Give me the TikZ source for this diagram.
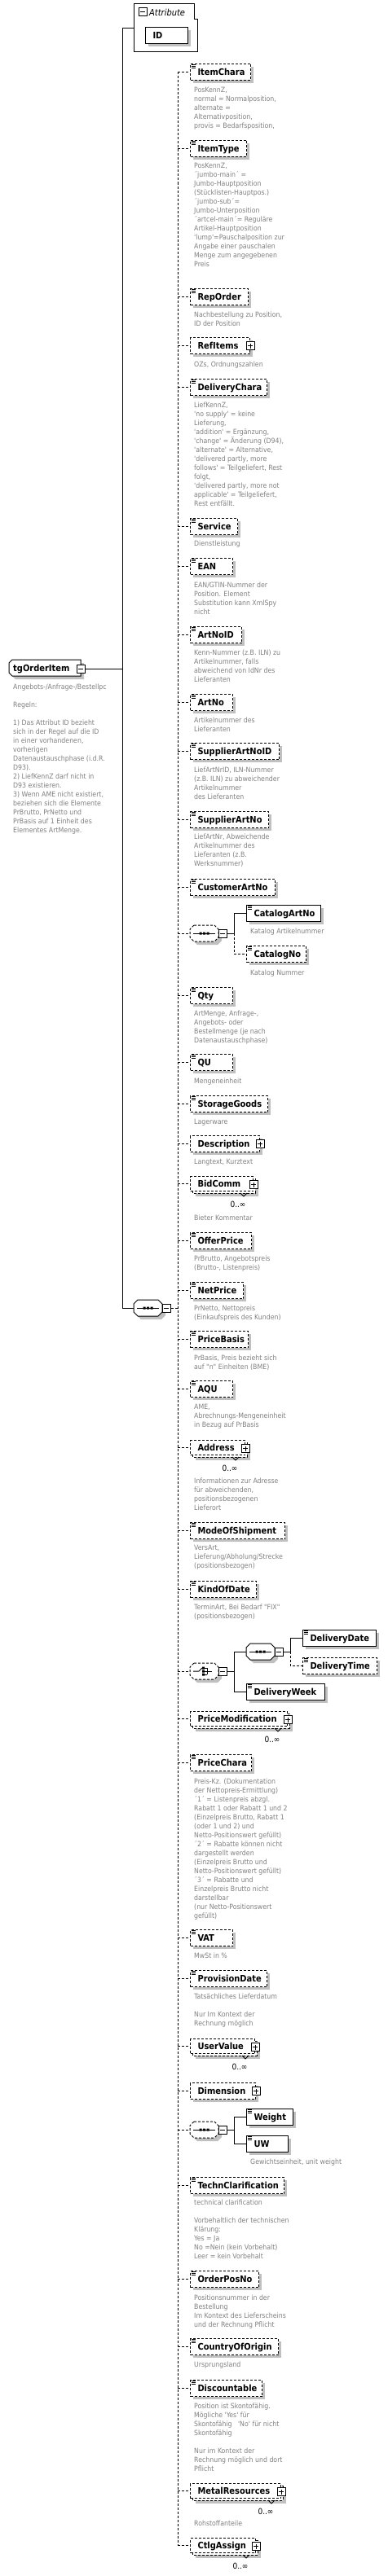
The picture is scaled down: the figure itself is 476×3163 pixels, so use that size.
\documentclass[tikz,border=0pt]{standalone}
\usepackage{fontspec}
\newfontfamily\dvs{DejaVu Sans Condensed}
\usetikzlibrary{calc}
\definecolor{descgray}{RGB}{128,128,128}
\definecolor{shadowgray}{RGB}{192,192,192}
\tikzset{
  dsh/.style={dash pattern=on 3pt off 2pt},
  conn/.style={line width=1pt},
  elbox/.style={draw=black, fill=white, line width=1pt, inner xsep=9pt, inner ysep=0pt,
    minimum height=20pt, text height=8pt, text depth=0pt,
    font=\dvs\fontsize{11}{13}\selectfont\bfseries, anchor=north west},
  desc/.style={anchor=north west, inner sep=0pt, align=left, text=descgray,
    font=\dvs\fontsize{8.7}{11}\selectfont},
  mult/.style={inner sep=0pt, font=\dvs\fontsize{10}{12}\selectfont},
  pmbox/.style={draw=black, fill=white, line width=1pt, minimum width=10pt,
    minimum height=10pt, inner sep=0pt},
  ghost/.style={inner sep=0pt, draw=none},
}
% leaf element: opts, name, x, top, width, label
\newcommand\Leaf[6]{%
  \fill[shadowgray] (#3+4,#4+4) rectangle (#3+#5+4,#4+24);
  \node[elbox,#1,minimum width=#5pt] (#2) at (#3,#4) {\makebox[\dimexpr#5pt-18pt\relax][l]{#6}};
  \draw[line width=0.7pt] (#3+2,#4+1.6) -- (#3+7,#4+1.6) (#3+2,#4+3.3) -- (#3+7,#4+3.3) (#3+2,#4+5) -- (#3+7,#4+5);
}
% complex element with plus box
\newcommand\Cplx[6]{%
  \fill[shadowgray] (#3+4,#4+4) rectangle (#3+#5+4,#4+24);
  \node[elbox,#1,minimum width=#5pt] (#2) at (#3,#4) {\makebox[\dimexpr#5pt-18pt\relax][l]{#6}};
  \node[pmbox] (#2-p) at (#2.east) {};
  \draw[line width=1pt] ($(#2-p.center)+(-3,0)$) -- ($(#2-p.center)+(3,0)$) ($(#2-p.center)+(0,-3)$) -- ($(#2-p.center)+(0,3)$);
}
% multiple-occurrence element: name, x, top, front width, label
\newcommand\Multi[5]{%
  \fill[shadowgray] (#2+7,#3+7) rectangle (#2+#4+7,#3+25);
  \draw[dsh,line width=1pt,fill=white] (#2+3,#3+3) rectangle (#2+#4+3,#3+21);
  \node[elbox,dsh,minimum width=#4pt,minimum height=18pt] (#1) at (#2,#3) {\makebox[\dimexpr#4pt-18pt\relax][l]{#5}};
  \node[pmbox] (#1-p) at ($(#1.east)+(0,1)$) {};
  \draw[line width=1pt] ($(#1-p.center)+(-3,0)$) -- ($(#1-p.center)+(3,0)$) ($(#1-p.center)+(0,-3)$) -- ($(#1-p.center)+(0,3)$);
  \draw[line width=0.8pt] (#2+#4-15,#3+21) -- (#2+#4-11,#3+25) -- (#2+#4-7,#3+21);
  \node[mult] (#1-m) at (#2+#4-18,#3+34.5) {0..∞};
}
% octagon compositor: opts, name, x, cy
\newcommand\Octo[4]{%
  \fill[shadowgray] (#3+9,#4-6) -- (#3+34,#4-6) -- (#3+39,#4-1) -- (#3+39,#4+9) -- (#3+34,#4+14) -- (#3+9,#4+14) -- (#3+4,#4+9) -- (#3+4,#4-1) -- cycle;
  \draw[line width=1pt,fill=white,#1] (#3+5,#4-10) -- (#3+30,#4-10) -- (#3+35,#4-5) -- (#3+35,#4+5) -- (#3+30,#4+10) -- (#3+5,#4+10) -- (#3,#4+5) -- (#3,#4-5) -- cycle;
  \node[ghost,minimum width=35pt,minimum height=20pt,anchor=west] (#2) at (#3,#4) {};
  \node[pmbox] (#2-m) at (#3+40,#4) {};
  \draw[line width=1pt] (#3+37,#4) -- (#3+43,#4);
}
\newcommand\Seq[4]{%
  \Octo{#1}{#2}{#3}{#4}
  \draw[line width=1pt] (#3+4,#4) -- (#3+31,#4);
  \fill (#3+11.5,#4-1.5) rectangle ++(3,3) (#3+16,#4-1.5) rectangle ++(3,3) (#3+20.5,#4-1.5) rectangle ++(3,3);
}
\newcommand\Choice[4]{%
  \Octo{#1}{#2}{#3}{#4}
  \draw[line width=1pt] (#3+4,#4) -- (#3+11,#4) -- (#3+15,#4-4);
  \fill (#3+15,#4-5.5) rectangle ++(3,3) (#3+15,#4-1.5) rectangle ++(3,3) (#3+15,#4+2.5) rectangle ++(3,3);
  \draw[line width=0.8pt] (#3+18,#4-4) -- (#3+21,#4-4) (#3+18,#4+4) -- (#3+21,#4+4) (#3+21,#4-4) -- (#3+21,#4+4) (#3+18,#4) -- (#3+27,#4);
}
% description text: name, x, centre of first line, text
\newcommand\Desc[4]{\node[desc] (#1) at (#2,#3-4.6) {\strut #4};}

\begin{document}
\begin{tikzpicture}[x=1pt,y=-1pt]
\useasboundingbox (0,0) rectangle (476,3163);

% ---------- attribute container ----------
\draw[line width=1pt] (164,5) -- (238,5) -- (238,24) -- (242,24) -- (242,64) -- (164,64) -- cycle;
\node[ghost,minimum width=78pt,minimum height=59pt,anchor=north west] (attr) at (164,5) {};
\node[pmbox] (attr-m) at (175,15) {};
\draw[line width=1pt] (172,15) -- (178,15);
\node[anchor=west,inner sep=0pt,font=\dvs\fontsize{11}{13}\selectfont\itshape] (attr-t) at (183,15) {Attribute};
\fill[shadowgray] (182,37) rectangle (234,57);
\node[elbox,minimum width=52pt] (id) at (178,33) {\makebox[34pt][l]{ID}};

% ---------- root ----------
\fill[shadowgray] (19,814) -- (103,814) -- (103,834) -- (19,834) -- (15,830) -- (15,818) -- cycle;
\draw[line width=1pt,fill=white] (15,810) -- (99,810) -- (99,830) -- (15,830) -- (11,826) -- (11,814) -- cycle;
\node[ghost,minimum width=88pt,minimum height=20pt,anchor=north west] (tg) at (11,810) {};
\node[anchor=west,inner sep=0pt,text height=8pt,text depth=0pt,font=\dvs\fontsize{11}{13}\selectfont\bfseries] (tg-t) at (16,820) {tgOrderItem};
\node[pmbox] (tg-m) at (99,821) {};
\draw[line width=1pt] (96,821) -- (102,821);
\Desc{dtg}{16}{843}{Angebots-/Anfrage-/Bestellpc\\ \\Regeln:\\ \\1) Das Attribut ID bezieht\\sich in der Regel auf die ID\\in einer vorhandenen,\\vorherigen\\Datenaustauschphase (i.d.R.\\D93).\\2) LiefKennZ darf nicht in\\D93 existieren.\\3) Wenn AME nicht existiert,\\beziehen sich die Elemente\\PrBrutto, PrNetto und\\PrBasis auf 1 Einheit des\\Elementes ArtMenge.}

% ---------- main sequence ----------
\Seq{}{mseq}{164}{1606}

% ---------- children ----------
\Leaf{dsh}{itemchara}{233}{78}{74}{ItemChara}
\Desc{d1}{238}{110}{PosKennZ,\\normal = Normalposition,\\alternate =\\Alternativposition,\\provis = Bedarfsposition,}
\Leaf{dsh}{itemtype}{233}{172}{69}{ItemType}
\Desc{d2}{238}{203}{PosKennZ,\\´jumbo-main´ =\\Jumbo-Hauptposition\\(Stücklisten-Hauptpos.)\\´jumbo-sub´=\\Jumbo-Unterposition\\´artcel-main´= Reguläre\\Artikel-Hauptposition\\'lump'=Pauschalposition zur\\Angabe einer pauschalen\\Menge zum angegebenen\\Preis}
\Leaf{dsh}{reporder}{233}{354}{71}{RepOrder}
\Desc{d3}{238}{386}{Nachbestellung zu Position,\\ID der Position}
\Cplx{dsh}{refitems}{233}{414}{73}{RefItems}
\Desc{d4}{238}{447}{OZs, Ordnungszahlen}
\Leaf{dsh}{deliverychara}{233}{465}{94}{DeliveryChara}
\Desc{d5}{238}{497}{LiefKennZ,\\'no supply' = keine\\Lieferung,\\'addition' = Ergänzung,\\'change' = Änderung (D94),\\'alternate' = Alternative,\\'delivered partly, more\\follows' = Teilgeliefert, Rest\\folgt,\\'delivered partly, more not\\applicable' = Teilgeliefert,\\Rest entfällt.}
\Leaf{dsh}{service}{233}{636}{58}{Service}
\Desc{d6}{238}{667}{Dienstleistung}
\Leaf{dsh}{ean}{233}{685}{52}{EAN}
\Desc{d7}{238}{718}{EAN/GTIN-Nummer der\\Position. Element\\Substitution kann XmlSpy\\nicht}
\Leaf{dsh}{artnoid}{233}{769}{63}{ArtNoID}
\Desc{d8}{238}{801}{Kenn-Nummer (z.B. ILN) zu\\Artikelnummer, falls\\abweichend von IdNr des\\Lieferanten}
\Leaf{dsh}{artno}{233}{852}{52}{ArtNo}
\Desc{d9}{238}{884}{Artikelnummer des\\Lieferanten}
\Leaf{dsh}{supplierartnoid}{233}{912}{109}{SupplierArtNoID}
\Desc{d10}{238}{945}{LiefArtNrID, ILN-Nummer\\(z.B. ILN) zu abweichender\\Artikelnummer\\des Lieferanten}
\Leaf{dsh}{supplierartno}{233}{996}{96}{SupplierArtNo}
\Desc{d11}{238}{1027}{LiefArtNr, Abweichende\\Artikelnummer des\\Lieferanten (z.B.\\Werksnummer)}
\Leaf{dsh}{customerartno}{233}{1079}{104}{CustomerArtNo}
\Seq{dsh}{seq1}{233}{1146}
\Leaf{}{catart}{302}{1111}{91}{CatalogArtNo}
\Desc{d12}{307}{1143}{Katalog Artikelnummer}
\Leaf{dsh}{catno}{302}{1161}{73}{CatalogNo}
\Desc{d13}{307}{1194}{Katalog Nummer}
\Leaf{dsh}{qty}{233}{1212}{52}{Qty}
\Desc{d14}{238}{1244}{ArtMenge, Anfrage-,\\Angebots- oder\\Bestellmenge (je nach\\Datenaustauschphase)}
\Leaf{dsh}{qu}{233}{1294}{52}{QU}
\Desc{d15}{238}{1327}{Mengeneinheit}
\Leaf{dsh}{storagegoods}{233}{1345}{95}{StorageGoods}
\Desc{d16}{238}{1377}{Lagerware}
\Cplx{dsh}{description}{233}{1394}{85}{Description}
\Desc{d17}{238}{1426}{Langtext, Kurztext}
\Multi{bidcomm}{233}{1444}{77}{BidComm}
\Desc{d18}{238}{1495}{Bieter Kommentar}
\Leaf{dsh}{offerprice}{233}{1513}{75}{OfferPrice}
\Desc{d19}{238}{1545}{PrBrutto, Angebotspreis\\(Brutto-, Listenpreis)}
\Leaf{dsh}{netprice}{233}{1574}{65}{NetPrice}
\Desc{d20}{238}{1606}{PrNetto, Nettopreis\\(Einkaufspreis des Kunden)}
\Leaf{dsh}{pricebasis}{233}{1634}{71}{PriceBasis}
\Desc{d21}{238}{1667}{PrBasis, Preis bezieht sich\\auf "n" Einheiten (BME)}
\Leaf{dsh}{aqu}{233}{1695}{52}{AQU}
\Desc{d22}{238}{1727}{AME,\\Abrechnungs-Mengeneinheit\\in Bezug auf PrBasis}
\Multi{address}{233}{1768}{67}{Address}
\Desc{d23}{238}{1818}{Informationen zur Adresse\\für abweichenden,\\positionsbezogenen\\Lieferort}
\Leaf{dsh}{modeofshipment}{233}{1869}{116}{ModeOfShipment}
\Desc{d24}{238}{1900}{VersArt,\\Lieferung/Abholung/Strecke\\(positionsbezogen)}
\Leaf{dsh}{kindofdate}{233}{1941}{81}{KindOfDate}
\Desc{d25}{238}{1973}{TerminArt, Bei Bedarf "FIX"\\(positionsbezogen)}
\Choice{dsh}{choice}{233}{2052}
\Seq{}{seq2}{302}{2028}
\Leaf{}{ddate}{371}{2001}{90}{DeliveryDate}
\Leaf{dsh}{dtime}{371}{2035}{91}{DeliveryTime}
\Leaf{}{dweek}{302}{2067}{96}{DeliveryWeek}
\Multi{pricemod}{233}{2101}{119}{PriceModification}
\Leaf{dsh}{pricechara}{233}{2154}{75}{PriceChara}
\Desc{d26}{238}{2187}{Preis-Kz. (Dokumentation\\der Nettopreis-Ermittlung)\\´1´ = Listenpreis abzgl.\\Rabatt 1 oder Rabatt 1 und 2\\(Einzelpreis Brutto, Rabatt 1\\(oder 1 und 2) und\\Netto-Positionswert gefüllt)\\´2´ = Rabatte können nicht\\dargestellt werden\\(Einzelpreis Brutto und\\Netto-Positionswert gefüllt)\\´3´ = Rabatte und\\Einzelpreis Brutto nicht\\darstellbar\\(nur Netto-Positionswert\\gefüllt)}
\Leaf{dsh}{vat}{233}{2369}{52}{VAT}
\Desc{d27}{238}{2401}{MwSt in \%}
\Leaf{dsh}{provisiondate}{233}{2419}{94}{ProvisionDate}
\Desc{d28}{238}{2451}{Tatsächliches Lieferdatum\\ \\Nur Im Kontext der\\Rechnung möglich}
\Multi{uservalue}{233}{2503}{79}{UserValue}
\Cplx{dsh}{dimension}{233}{2557}{80}{Dimension}
\Seq{dsh}{seq3}{233}{2615}
\Leaf{}{weight}{302}{2589}{57}{Weight}
\Leaf{}{uw}{302}{2622}{51}{UW}
\Desc{d29}{307}{2654}{Gewichtseinheit, unit weight}
\Leaf{dsh}{techn}{233}{2673}{115}{TechnClarification}
\Desc{d30}{238}{2704}{technical clarification\\ \\Vorbehaltlich der technischen\\Klärung:\\Yes = Ja\\No =Nein (kein Vorbehalt)\\Leer = kein Vorbehalt}
\Leaf{dsh}{orderposno}{233}{2788}{84}{OrderPosNo}
\Desc{d31}{238}{2821}{Positionsnummer in der\\Bestellung\\Im Kontext des Lieferscheins\\und der Rechnung Pflicht}
\Leaf{dsh}{countryoforigin}{233}{2871}{108}{CountryOfOrigin}
\Desc{d32}{238}{2903}{Ursprungsland}
\Leaf{dsh}{discountable}{233}{2922}{88}{Discountable}
\Desc{d33}{238}{2954}{Position ist Skontofähig.\\Mögliche 'Yes' für\\Skontofähig\ \ \ 'No' für nicht\\Skontofähig\\ \\Nur im Kontext der\\Rechnung möglich und dort\\Pflicht}
\Multi{metalres}{233}{3049}{111}{MetalResources}
\Desc{d34}{238}{3098}{Rohstoffanteile}
\Multi{ctlgassign}{233}{3116}{80}{CtlgAssign}

% ---------- connectors ----------
\coordinate (trunk) at (150,0);
\coordinate (spine) at (218,0);
\draw[conn] (attr.west) -- (attr.west -| trunk) |- (mseq.west);
\draw[conn] (tg-m.east) -- (tg-m.east -| trunk);
\draw[conn,dsh] (mseq-m.east) -- (mseq-m.east -| spine);
\draw[conn,dsh] (itemchara.west -| spine) -- (ctlgassign.west -| spine);
\foreach \n in {itemchara,itemtype,reporder,refitems,deliverychara,service,ean,artnoid,artno,supplierartnoid,supplierartno,customerartno,seq1,qty,qu,storagegoods,description,bidcomm,offerprice,netprice,pricebasis,aqu,address,modeofshipment,kindofdate,choice,pricemod,pricechara,vat,provisiondate,uservalue,dimension,seq3,techn,orderposno,countryoforigin,discountable,metalres,ctlgassign}
  \draw[conn,dsh] (\n.west -| spine) -- (\n.west);

\coordinate (b1) at (287,1146);
\draw[conn] (seq1-m.east) -- (b1) |- (catart.west);
\draw[conn,dsh] (b1) |- (catno.west);
\coordinate (b2) at (287,2052);
\draw[conn] (choice-m.east) -- (b2) |- (seq2.west);
\draw[conn] (b2) |- (dweek.west);
\coordinate (b3) at (356,2028);
\draw[conn] (seq2-m.east) -- (b3) |- (ddate.west);
\draw[conn,dsh] (b3) |- (dtime.west);
\coordinate (b4) at (287,2615);
\draw[conn] (seq3-m.east) -- (b4) |- (weight.west);
\draw[conn] (b4) |- (uw.west);
\end{tikzpicture}
\end{document}
